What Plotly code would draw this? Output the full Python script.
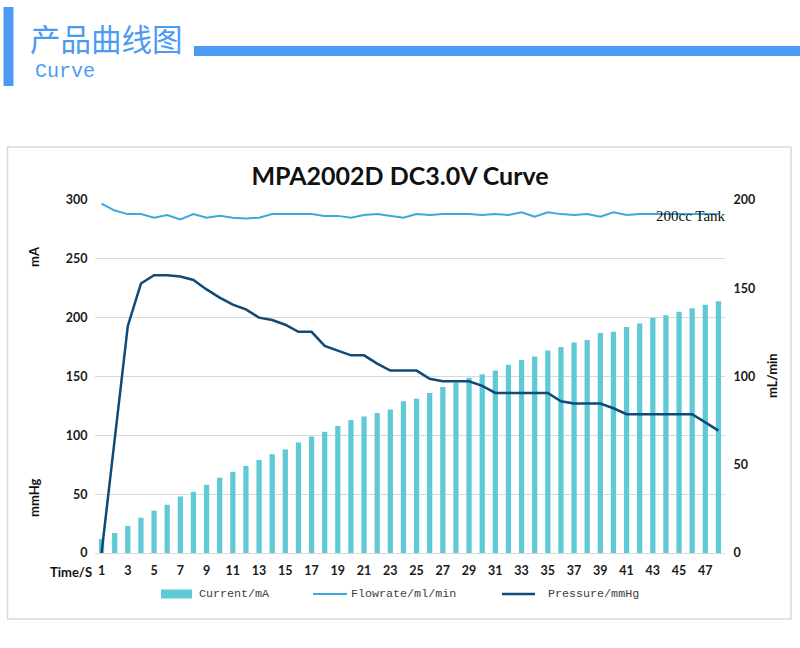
import plotly.graph_objects as go

# data
time_s = list(range(1, 49))
current_ma = [12, 17, 23, 30, 36, 41, 48, 52, 58, 64,
              69, 74, 79, 84, 88, 94, 99, 103, 108, 113,
              116, 119, 122, 129, 131, 136, 141, 145, 149, 152,
              155, 160, 164, 167, 172, 175, 179, 181, 187, 188,
              192, 195, 200, 202, 205, 208, 211, 214]
pressure_mmhg = [0, 97, 193, 229, 236, 236, 235, 232, 224, 217,
                 211, 207, 200, 198, 194, 188, 188, 176, 172, 168,
                 168, 161, 155, 155, 155, 148, 146, 146, 146, 142,
                 136, 136, 136, 136, 136, 129, 127, 127, 127, 123,
                 118, 118, 118, 118, 118, 118, 111, 104]
flow_ml_min = [198, 194, 192, 192, 190, 191.5, 189, 192, 190, 191,
               190, 189.5, 190, 192, 192, 192, 192, 191, 191, 190,
               191.5, 192, 191, 190, 192, 191.5, 192, 192, 192, 191.5,
               192, 191.5, 193, 190.5, 193, 192, 191.5, 192, 190.5, 193,
               191.5, 192, 192, 192, 192, 192, 192, 192]
x_ticks = [t for t in time_s if t % 2 == 1]
left_ticks = [0, 50, 100, 150, 200, 250, 300]
right_ticks = [0, 50, 100, 150, 200]

# colours
BAR = "#5fcad6"
FLOW = "#3aa9de"
PRES = "#0f4a78"
HEAD = "#4b9bf4"
GRID = "#d9d9d9"

W, H = 800, 648
L, R, T, B = 95, 75, 200, 95
PW, PH = W - L - R, H - T - B


def px_x(x):
    return (x - L) / PW


def px_y(y):
    return (H - B - y) / PH


fig = go.Figure()

fig.add_trace(go.Bar(x=time_s, y=current_ma, name="Current/mA",
                     marker=dict(color=BAR, line=dict(width=0))))
fig.add_trace(go.Scatter(x=time_s, y=pressure_mmhg, name="Pressure/mmHg",
                         mode="lines", line=dict(color=PRES, width=2.5)))
fig.add_trace(go.Scatter(x=time_s, y=flow_ml_min, name="Flowrate/ml/min",
                         mode="lines", yaxis="y2", line=dict(color=FLOW, width=2)))

tick_font = dict(family="Lato", size=12.5, color="#1a1a1a", weight="bold")

fig.update_layout(
    width=W, height=H,
    margin=dict(l=L, r=R, t=T, b=B),
    paper_bgcolor="white", plot_bgcolor="white",
    showlegend=False,
    bargap=0.6,
    title=dict(text="MPA2002D DC3.0V Curve", x=0.5, xanchor="center",
               xref="container", yref="container", y=1 - 176 / H, yanchor="middle",
               font=dict(family="Lato", size=25, color="#111111", weight="bold")),
    xaxis=dict(range=[0.5, 48.5], tickvals=x_ticks, ticktext=[str(t) for t in x_ticks],
               showgrid=False, zeroline=False, showline=True, linecolor=GRID, linewidth=1.3,
               ticks="outside", ticklen=6, tickcolor="rgba(0,0,0,0)",
               tickfont=tick_font),
    yaxis=dict(range=[0, 300], tickvals=left_ticks, showgrid=True, gridcolor=GRID,
               gridwidth=1.3, zeroline=False, showline=False, ticks="outside",
               ticklen=4, tickcolor="rgba(0,0,0,0)", tickfont=tick_font),
    yaxis2=dict(range=[0, 200], tickvals=right_ticks, overlaying="y", side="right",
                showgrid=False, zeroline=False, showline=False, ticks="outside",
                ticklen=5, tickcolor="rgba(0,0,0,0)", tickfont=tick_font),
)

shapes = []
annotations = []

# chart frame
shapes.append(dict(type="rect", xref="paper", yref="paper",
                   x0=px_x(7.5), x1=px_x(791), y0=px_y(619), y1=px_y(147),
                   line=dict(color=GRID, width=1.5), fillcolor="rgba(0,0,0,0)", layer="below"))

# page header
shapes.append(dict(type="rect", xref="paper", yref="paper",
                   x0=px_x(3.5), x1=px_x(13.5), y0=px_y(86), y1=px_y(7),
                   line=dict(width=0), fillcolor=HEAD))
shapes.append(dict(type="rect", xref="paper", yref="paper",
                   x0=px_x(194), x1=px_x(800), y0=px_y(56), y1=px_y(46),
                   line=dict(width=0), fillcolor=HEAD))
annotations.append(dict(text="产品曲线图", xref="paper", yref="paper",
                        x=px_x(28), y=px_y(38), xanchor="left", yanchor="middle",
                        showarrow=False,
                        font=dict(family="Noto Sans CJK SC", size=30.5, color=HEAD)))
annotations.append(dict(text="Curve", xref="paper", yref="paper",
                        x=px_x(33), y=px_y(71), xanchor="left", yanchor="middle",
                        showarrow=False,
                        font=dict(family="Liberation Mono", size=20, color=HEAD)))

# axis titles
axis_font = dict(family="Lato", size=13, color="#111111", weight="bold")
for label, xc, yc, ang in [("mA", 34, 257, -90), ("mmHg", 34, 498, -90),
                           ("mL/min", 772, 376, -90), ("Time/S", 71, 572, 0)]:
    annotations.append(dict(text=label, xref="paper", yref="paper", x=px_x(xc), y=px_y(yc),
                            xanchor="center", yanchor="middle", textangle=ang,
                            showarrow=False, font=axis_font))

# series note
annotations.append(dict(text="200cc Tank", xref="paper", yref="paper",
                        x=px_x(728), y=px_y(216), xanchor="right", yanchor="middle",
                        showarrow=False,
                        font=dict(family="Liberation Serif", size=15, color="#111111")))

# legend drawn by hand to match the spacing of the original
leg_font = dict(family="Liberation Mono", size=11.7, color="#404040")
leg_y = 594
shapes.append(dict(type="rect", xref="paper", yref="paper",
                   x0=px_x(161), x1=px_x(192), y0=px_y(598.5), y1=px_y(589.5),
                   line=dict(width=0), fillcolor=BAR))
shapes.append(dict(type="line", xref="paper", yref="paper",
                   x0=px_x(313), x1=px_x(347), y0=px_y(leg_y), y1=px_y(leg_y),
                   line=dict(color=FLOW, width=2)))
shapes.append(dict(type="line", xref="paper", yref="paper",
                   x0=px_x(502), x1=px_x(535), y0=px_y(leg_y), y1=px_y(leg_y),
                   line=dict(color=PRES, width=2.5)))
for label, xs in [("Current/mA", 197), ("Flowrate/ml/min", 349), ("Pressure/mmHg", 546)]:
    annotations.append(dict(text=label, xref="paper", yref="paper", x=px_x(xs), y=px_y(leg_y),
                            xanchor="left", yanchor="middle", showarrow=False, font=leg_font))

fig.update_layout(shapes=shapes, annotations=annotations)

# drop the page's default 8px body margin so the figure sits at the window corner
fig.write_html("out.html", config={"displayModeBar": False},
               post_script="document.body.style.margin = '0';")
